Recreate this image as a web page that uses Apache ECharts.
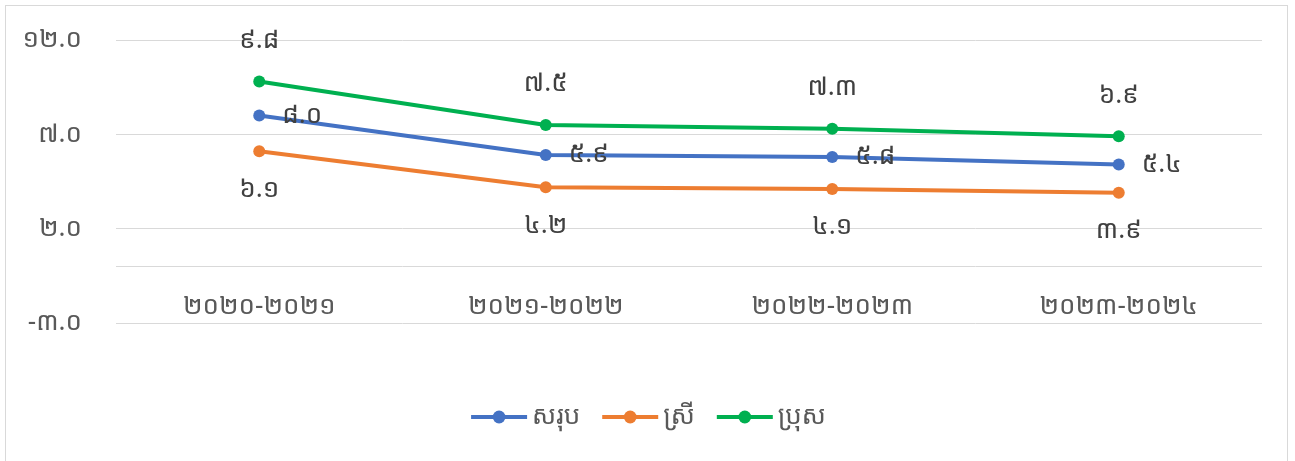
<!DOCTYPE html>
<html>
<head>
<meta charset="utf-8">
<script src="https://cdn.jsdelivr.net/npm/echarts@6/dist/echarts.min.js"></script>
<style>
html,body{margin:0;padding:0;background:#fff;}
#frame{position:absolute;left:5px;top:5px;width:1283px;height:470px;border:1px solid #d9d9d9;box-sizing:border-box;}
#chart{position:absolute;left:0;top:0;width:1295px;height:461px;}
</style>
</head>
<body>
<div id="frame"></div>
<div id="chart"></div>
<script>
const categories = ['២០២០-២០២១', '២០២១-២០២២', '២០២២-២០២៣', '២០២៣-២០២៤'];
const seriesNames = ['សរុប', 'ស្រី', 'ប្រុស'];
const totalValues = [8.0, 5.9, 5.8, 5.4];
const femaleValues = [6.1, 4.2, 4.1, 3.9];
const maleValues = [9.8, 7.5, 7.3, 6.9];
const yMin = -3, yMax = 12, yStep = 5;

const KH = '០១២៣៤៥៦៧៨៩';
function kh(v) {
  return Number(v).toFixed(1).replace(/[0-9]/g, d => KH[+d]);
}
const FONT = '"Noto Sans Khmer", "Khmer OS", "Noto Sans", sans-serif';
const FS = 26;

const chart = echarts.init(document.getElementById('chart'), null, {renderer: 'canvas'});
function mk(name, data, color, pos, dist) {
  return {
    name: name, type: 'line', data: data,
    symbol: 'circle', symbolSize: 12,
    lineStyle: {width: 4, color: color},
    itemStyle: {color: color},
    label: {show: true, position: pos, distance: dist, formatter: p => kh(p.value),
      color: '#404040', fontSize: FS, fontFamily: FONT},
    z: 3
  };
}
const series = [
  mk(seriesNames[0], totalValues, '#4472C4', 'right', 17),
  mk(seriesNames[1], femaleValues, '#ED7D31', 'bottom', 19),
  mk(seriesNames[2], maleValues, '#00B050', 'top', 22)
];
series[0].markLine = {
  silent: true, symbol: 'none', label: {show: false},
  lineStyle: {color: '#d9d9d9', type: 'solid', width: 1},
  emphasis: {disabled: true},
  data: [{yAxis: 0}]
};
chart.setOption({
  animation: false,
  textStyle: {fontFamily: FONT},
  grid: {left: 116, right: 33, top: 40, bottom: 138, containLabel: false},
  legend: {
    bottom: 26, left: 'center', itemWidth: 56, itemHeight: 16, itemGap: 20,
    lineStyle: {width: 4},
    textStyle: {color: '#595959', fontSize: FS, fontFamily: FONT},
    data: seriesNames
  },
  xAxis: {
    type: 'category', data: categories, boundaryGap: true,
    axisLine: {show: false, onZero: false},
    axisTick: {show: false},
    axisLabel: {color: '#595959', fontSize: FS, inside: true, margin: 16,
      verticalAlign: 'middle', fontFamily: FONT}
  },
  yAxis: {
    type: 'value', min: yMin, max: yMax, interval: yStep,
    axisLine: {show: false}, axisTick: {show: false},
    splitLine: {lineStyle: {color: '#d9d9d9', width: 1}},
    axisLabel: {color: '#595959', fontSize: FS, margin: 34, padding: [0, 0, 8, 0],
      formatter: v => kh(v), fontFamily: FONT}
  },
  series: series
});
</script>
</body>
</html>
